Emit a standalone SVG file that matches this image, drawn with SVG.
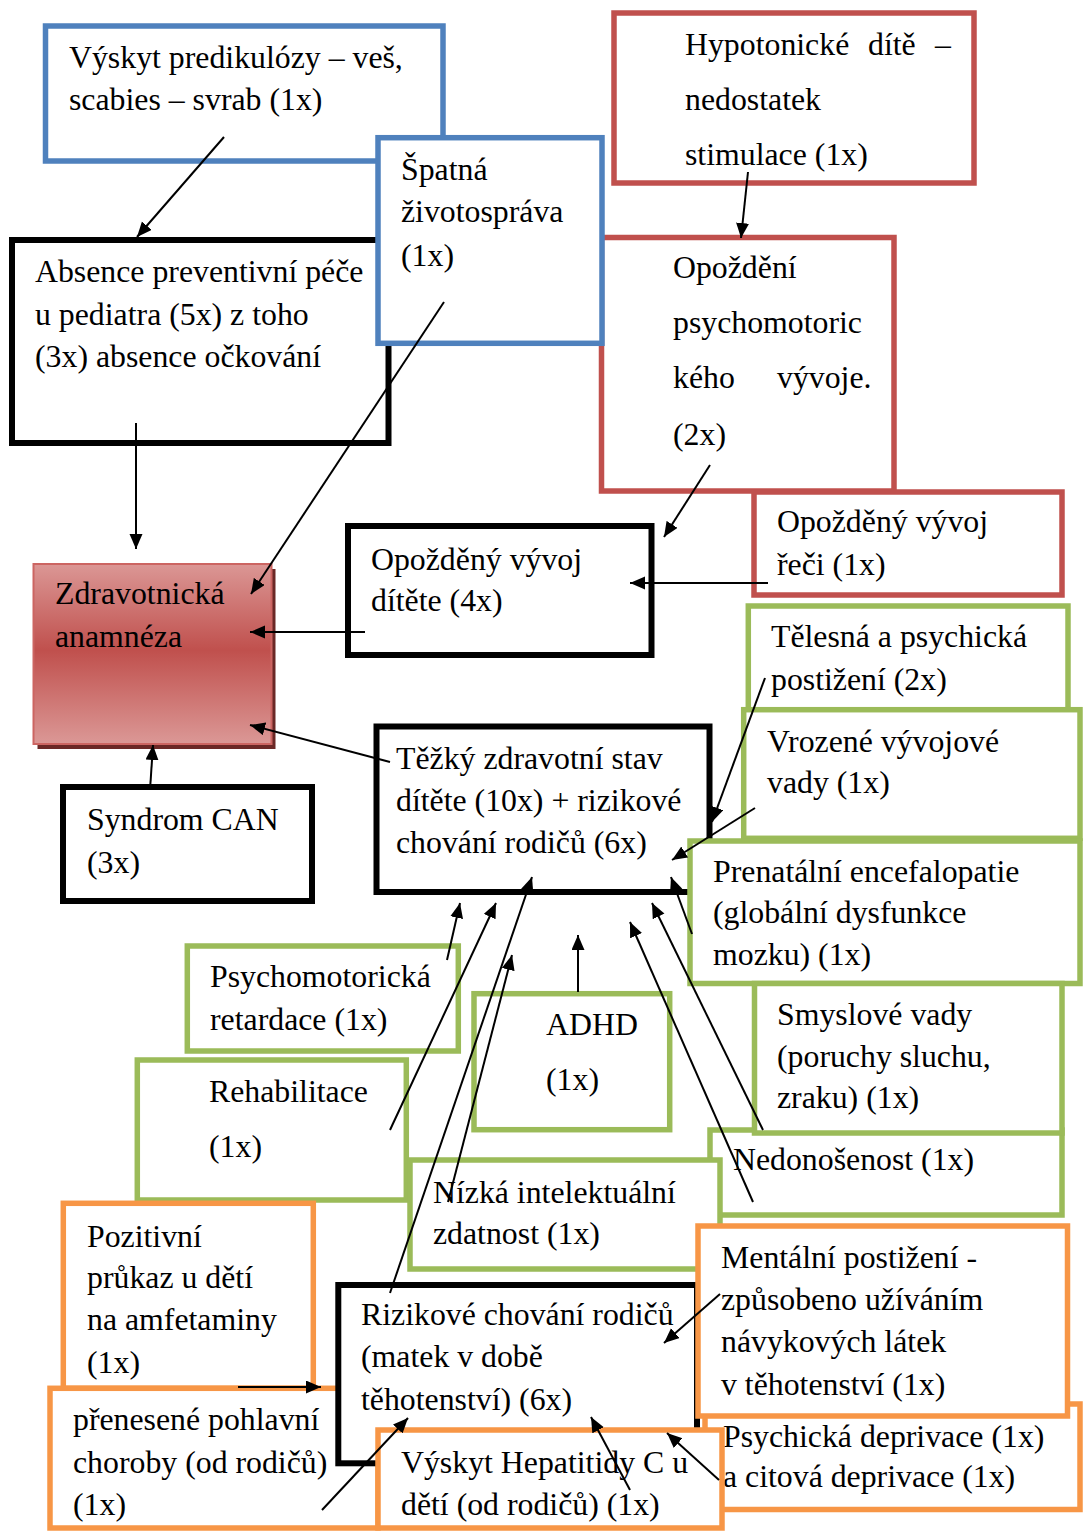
<svg xmlns="http://www.w3.org/2000/svg" width="1083" height="1531" viewBox="0 0 1083 1531">
  <defs>
    <style>
      .t { font-family: "Liberation Serif", "Times New Roman", serif; font-size: 31.8px; fill: #000; }
      .blue { fill: #fff; stroke: #4F81BD; stroke-width: 5.5; }
      .red { fill: #fff; stroke: #C0504D; stroke-width: 5.5; }
      .green { fill: #fff; stroke: #9BBB59; stroke-width: 5.5; }
      .orange { fill: #fff; stroke: #F79646; stroke-width: 5.5; }
      .black { fill: #fff; stroke: #000; stroke-width: 6; }
      .c { fill: none; stroke: #000; stroke-width: 2; marker-end: url(#ah); }
    </style>
    <marker id="ah" markerUnits="userSpaceOnUse" markerWidth="16" markerHeight="14" refX="15" refY="6.5" orient="auto">
      <path d="M0,0 L15,6.5 L0,13 Z" fill="#000"/>
    </marker>
    <linearGradient id="redGrad" x1="0" y1="0" x2="0" y2="1">
      <stop offset="0" stop-color="#DB9795"/>
      <stop offset="0.48" stop-color="#C0504D"/>
      <stop offset="1" stop-color="#DB9896"/>
    </linearGradient>
  </defs>

  <!-- nodes -->
  <g id="node-predikuloza">
    <rect class="blue" x="45.5" y="26" width="397.5" height="135"/>
    <text class="t" x="69" y="68">Výskyt predikulózy – veš,</text>
    <text class="t" x="69" y="110">scabies – svrab (1x)</text>
  </g>
  <g id="node-absence-pece">
    <rect class="black" x="12" y="240" width="376.5" height="203"/>
    <text class="t" x="35" y="282">Absence preventivní péče</text>
    <text class="t" x="35" y="325">u pediatra (5x) z toho</text>
    <text class="t" x="35" y="367">(3x) absence očkování</text>
  </g>
  <g id="node-hypotonicke">
    <rect class="red" x="614" y="13" width="360" height="170"/>
    <text class="t" x="685" y="55">Hypotonické</text>
    <text class="t" x="868" y="55">dítě</text>
    <text class="t" x="935" y="55">–</text>
    <text class="t" x="685" y="110">nedostatek</text>
    <text class="t" x="685" y="165">stimulace (1x)</text>
  </g>
  <g id="node-opozdeni-psychomotoriky">
    <rect class="red" x="601.5" y="237.5" width="292.5" height="253.5"/>
    <text class="t" x="673" y="278">Opoždění</text>
    <text class="t" x="673" y="333">psychomotoric</text>
    <text class="t" x="673" y="388">kého</text>
    <text class="t" x="777" y="388">vývoje.</text>
    <text class="t" x="673" y="445">(2x)</text>
  </g>
  <g id="node-zivotosprava">
    <rect class="blue" x="378" y="137.7" width="224" height="205.6"/>
    <text class="t" x="401" y="180">Špatná</text>
    <text class="t" x="401" y="222">životospráva</text>
    <text class="t" x="401" y="266">(1x)</text>
  </g>
  <g id="node-vyvoj-reci">
    <rect class="red" x="754" y="492" width="308" height="103"/>
    <text class="t" x="777" y="532">Opožděný vývoj</text>
    <text class="t" x="777" y="575">řeči (1x)</text>
  </g>
  <g id="node-vyvoj-ditete">
    <rect class="black" x="348" y="526" width="303.5" height="129"/>
    <text class="t" x="371" y="570">Opožděný vývoj</text>
    <text class="t" x="371" y="611">dítěte (4x)</text>
  </g>
  <g id="node-anamneza">
    <rect x="37.5" y="569" width="238" height="180" fill="#6B2826"/>
    <rect x="33.5" y="564" width="238" height="180" fill="url(#redGrad)" stroke="#CC6562" stroke-width="2"/>
    <text class="t" x="55" y="604">Zdravotnická</text>
    <text class="t" x="55" y="647">anamnéza</text>
  </g>
  <g id="node-postizeni">
    <rect class="green" x="748.3" y="606" width="319.7" height="104"/>
    <text class="t" x="771" y="647">Tělesná a psychická</text>
    <text class="t" x="771" y="690">postižení (2x)</text>
  </g>
  <g id="node-vrozene-vady">
    <rect class="green" x="743.7" y="709.7" width="336.3" height="128.6"/>
    <text class="t" x="767" y="752">Vrozené vývojové</text>
    <text class="t" x="767" y="793">vady (1x)</text>
  </g>
  <g id="node-tezky-stav">
    <rect class="black" x="376.5" y="726.5" width="333" height="165.5"/>
    <text class="t" x="396" y="769">Těžký zdravotní stav</text>
    <text class="t" x="396" y="811">dítěte (10x) + rizikové</text>
    <text class="t" x="396" y="853">chování rodičů (6x)</text>
  </g>
  <g id="node-syndrom-can">
    <rect class="black" x="63" y="787" width="249" height="114"/>
    <text class="t" x="87" y="830">Syndrom CAN</text>
    <text class="t" x="87" y="873">(3x)</text>
  </g>
  <g id="node-encefalopatie">
    <rect class="green" x="690" y="841" width="390" height="142.5"/>
    <text class="t" x="713" y="882">Prenatální encefalopatie</text>
    <text class="t" x="713" y="923">(globální dysfunkce</text>
    <text class="t" x="713" y="965">mozku) (1x)</text>
  </g>
  <g id="node-retardace">
    <rect class="green" x="187.3" y="946" width="271" height="105"/>
    <text class="t" x="210" y="987">Psychomotorická</text>
    <text class="t" x="210" y="1030">retardace (1x)</text>
  </g>
  <g id="node-adhd">
    <rect class="green" x="474" y="993.7" width="195.7" height="136"/>
    <text class="t" x="546" y="1035">ADHD</text>
    <text class="t" x="546" y="1090">(1x)</text>
  </g>
  <g id="node-nedonosenost">
    <rect class="green" x="710" y="1130" width="352" height="85"/>
    <text class="t" x="733" y="1170">Nedonošenost (1x)</text>
  </g>
  <g id="node-smyslove-vady">
    <rect class="green" x="754.5" y="983.5" width="307.5" height="149.5"/>
    <text class="t" x="777" y="1025">Smyslové vady</text>
    <text class="t" x="777" y="1067">(poruchy sluchu,</text>
    <text class="t" x="777" y="1108">zraku) (1x)</text>
  </g>
  <g id="node-rehabilitace">
    <rect class="green" x="137.3" y="1060" width="269" height="140"/>
    <text class="t" x="209" y="1102">Rehabilitace</text>
    <text class="t" x="209" y="1157">(1x)</text>
  </g>
  <g id="node-intelekt">
    <rect class="green" x="410" y="1160" width="310" height="109"/>
    <text class="t" x="433" y="1203">Nízká intelektuální</text>
    <text class="t" x="433" y="1244">zdatnost (1x)</text>
  </g>
  <g id="node-amfetaminy">
    <rect class="orange" x="63.3" y="1203.3" width="250" height="185"/>
    <text class="t" x="87" y="1247">Pozitivní</text>
    <text class="t" x="87" y="1288">průkaz u dětí</text>
    <text class="t" x="87" y="1330">na amfetaminy</text>
    <text class="t" x="87" y="1373">(1x)</text>
  </g>
  <g id="node-pohlavni-choroby">
    <rect class="orange" x="50" y="1388.3" width="328" height="139.7"/>
    <text class="t" x="73" y="1430">přenesené pohlavní</text>
    <text class="t" x="73" y="1473">choroby (od rodičů)</text>
    <text class="t" x="73" y="1515">(1x)</text>
  </g>
  <g id="node-rizikove-chovani">
    <rect class="black" x="338.3" y="1285" width="358.7" height="178.3"/>
    <text class="t" x="361" y="1325">Rizikové chování rodičů</text>
    <text class="t" x="361" y="1367">(matek v době</text>
    <text class="t" x="361" y="1410">těhotenství) (6x)</text>
  </g>
  <g id="node-deprivace">
    <rect class="orange" x="705" y="1404" width="375" height="105.5"/>
    <text class="t" x="723" y="1447">Psychická deprivace (1x)</text>
    <text class="t" x="723" y="1487">a citová deprivace (1x)</text>
  </g>
  <g id="node-hepatitida">
    <rect class="orange" x="378" y="1430" width="344" height="98"/>
    <text class="t" x="401" y="1473">Výskyt Hepatitidy C u</text>
    <text class="t" x="401" y="1515">dětí (od rodičů) (1x)</text>
  </g>
  <g id="node-mentalni-postizeni">
    <rect class="orange" x="698" y="1226" width="369.5" height="190"/>
    <text class="t" x="721" y="1268">Mentální postižení -</text>
    <text class="t" x="721" y="1310">způsobeno užíváním</text>
    <text class="t" x="721" y="1352">návykových látek</text>
    <text class="t" x="721" y="1395">v těhotenství (1x)</text>
  </g>

  <!-- connectors -->
  <g id="connectors">
    <line class="c" x1="224" y1="137" x2="137" y2="237"/>
    <line class="c" x1="136" y1="423" x2="136" y2="549"/>
    <line class="c" x1="444" y1="302" x2="251" y2="594"/>
    <line class="c" x1="365" y1="632" x2="250" y2="632"/>
    <line class="c" x1="390" y1="762" x2="250" y2="725"/>
    <line class="c" x1="150" y1="790" x2="153" y2="745"/>
    <line class="c" x1="748" y1="172" x2="741" y2="238"/>
    <line class="c" x1="710" y1="465" x2="664" y2="537"/>
    <line class="c" x1="768" y1="583" x2="630" y2="583"/>
    <line class="c" x1="765" y1="678" x2="712" y2="822"/>
    <line class="c" x1="755" y1="808" x2="672" y2="860"/>
    <line class="c" x1="692" y1="934" x2="671" y2="877"/>
    <line class="c" x1="763" y1="1130" x2="652" y2="903"/>
    <line class="c" x1="753" y1="1202" x2="630" y2="922"/>
    <line class="c" x1="578" y1="992" x2="578" y2="935"/>
    <line class="c" x1="447" y1="960" x2="460" y2="903"/>
    <line class="c" x1="390" y1="1130" x2="496" y2="903"/>
    <line class="c" x1="390" y1="1293" x2="532" y2="877"/>
    <line class="c" x1="448" y1="1202" x2="512" y2="955"/>
    <line class="c" x1="720" y1="1294" x2="664" y2="1343"/>
    <line class="c" x1="719" y1="1480" x2="667" y2="1433"/>
    <line class="c" x1="630" y1="1490" x2="591" y2="1417"/>
    <line class="c" x1="322" y1="1510" x2="408" y2="1418"/>
    <line class="c" x1="238" y1="1387" x2="321" y2="1387"/>
  </g>
</svg>
